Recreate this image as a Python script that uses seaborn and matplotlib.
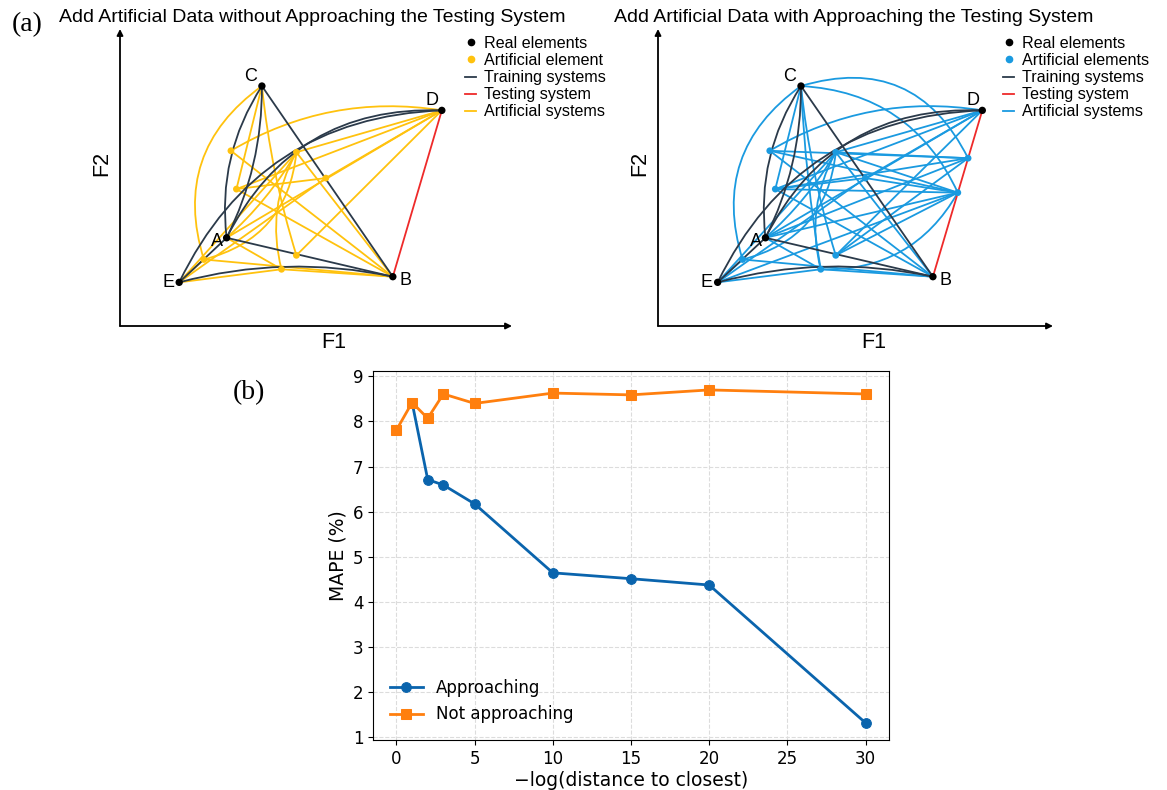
import matplotlib
matplotlib.use("Agg")
import matplotlib.pyplot as plt
import seaborn as sns
import pandas as pd
from matplotlib.patches import FancyArrowPatch
from matplotlib.lines import Line2D

# ---- panel (b) values ----
dist_approach = [1, 2, 3, 5, 10, 15, 20, 30]
mape_approach = [8.42, 6.71, 6.59, 6.17, 4.64, 4.51, 4.37, 1.31]
dist_not = [0, 1, 2, 3, 5, 10, 15, 20, 30]
mape_not = [7.81, 8.42, 8.07, 8.61, 8.40, 8.63, 8.59, 8.70, 8.61]
xticks_b = [0, 5, 10, 15, 20, 25, 30]
yticks_b = [1, 2, 3, 4, 5, 6, 7, 8, 9]

# ---- panel (a): element positions in (F1, F2), axes run 0..1 ----
real_names = ['A', 'B', 'C', 'D', 'E']
real_f1 = [0.272, 0.696, 0.362, 0.821, 0.151]
real_f2 = [0.297, 0.166, 0.808, 0.726, 0.147]

art_names = ['p1', 'p2', 'p3', 'p4', 'p5', 'p6', 'p7']
art_f1 = [0.283, 0.450, 0.297, 0.525, 0.214, 0.450, 0.412]
art_f2 = [0.590, 0.585, 0.461, 0.498, 0.224, 0.238, 0.191]

# extra artificial elements placed near the testing system
near_names = ['q1', 'q2']
near_f1 = [0.785, 0.759]
near_f2 = [0.565, 0.449]

# systems = (element, element, curvature)
training_edges = [
    ('C', 'A', 0.18), ('C', 'A', -0.12), ('C', 'B', 0.0), ('A', 'B', 0.0),
    ('E', 'A', 0.0), ('E', 'B', -0.12), ('A', 'D', -0.32), ('E', 'D', -0.3),
]
testing_edges = [('B', 'D', 0.0)]
artificial_edges = [
    ('p5', 'C', -0.36), ('D', 'p1', 0.18), ('C', 'p3', 0.0), ('C', 'p6', 0.05),
    ('p1', 'B', 0.0), ('p2', 'B', 0.0), ('p3', 'B', 0.0), ('p3', 'p4', 0.0),
    ('p4', 'D', 0.0), ('E', 'p4', 0.0), ('A', 'p2', 0.08), ('E', 'p2', 0.0),
    ('p2', 'p7', 0.2), ('p2', 'p5', -0.35), ('p5', 'B', 0.0), ('p6', 'D', 0.0),
    ('p7', 'B', 0.0), ('A', 'p7', 0.0), ('A', 'D', 0.0), ('E', 'p7', 0.0),
    ('p3', 'D', 0.0), ('p2', 'D', 0.0), ('E', 'p5', 0.0),
]
approach_extra_edges = [
    ('C', 'q1', -0.42), ('C', 'q2', -0.3), ('p1', 'q1', 0.0), ('p2', 'q1', 0.0),
    ('p3', 'q1', 0.0), ('p1', 'q2', 0.0), ('p2', 'q2', 0.0), ('p3', 'q2', 0.0),
    ('p6', 'q1', 0.0), ('p6', 'q2', 0.0), ('A', 'q2', 0.0), ('A', 'q1', 0.0),
    ('E', 'q2', 0.0), ('p7', 'q2', 0.3), ('p4', 'q2', 0.0), ('C', 'p7', 0.03),
]

label_offsets = {'A': (-7, -3), 'B': (9, -3), 'C': (-8, 7), 'D': (-7, 7), 'E': (-8, 0)}

DARK = '#2b3a4a'
RED = '#ee2a2a'
YELLOW = '#ffc20e'
LBLUE = '#1a9ae0'
BLUE = '#0a64ad'
ORANGE = '#ff7f0e'

fig = plt.figure(figsize=(11.67, 7.9), dpi=100)
W, H = 1167, 790


def pos(name):
    if name in real_names:
        i = real_names.index(name)
        return real_f1[i], real_f2[i]
    if name in art_names:
        i = art_names.index(name)
        return art_f1[i], art_f2[i]
    i = near_names.index(name)
    return near_f1[i], near_f2[i]


def add_edges(ax, edges, color, z):
    for a, b, rad in edges:
        p = FancyArrowPatch(pos(a), pos(b), arrowstyle='-',
                            connectionstyle=f'arc3,rad={rad}', color=color,
                            lw=1.3, shrinkA=0, shrinkB=0, zorder=z)
        ax.add_patch(p)


def draw_diagram(left_px, width_px, title_px, title, art_color, art_label, edges, with_near):
    ax = fig.add_axes([left_px / W, 1 - 326 / H, width_px / W, (326 - 29) / H])
    ax.set_xlim(0, 1)
    ax.set_ylim(0, 1)
    ax.axis('off')
    arrow = dict(arrowstyle='-|>', lw=1.3, color='black', mutation_scale=9,
                 shrinkA=0, shrinkB=0)
    ax.annotate('', xy=(1, 0), xytext=(0, 0), arrowprops=arrow, annotation_clip=False)
    ax.annotate('', xy=(0, 1), xytext=(0, 0), arrowprops=arrow, annotation_clip=False)

    add_edges(ax, edges, art_color, 2)
    add_edges(ax, training_edges, DARK, 3)
    add_edges(ax, testing_edges, RED, 3)

    af1, af2 = list(art_f1), list(art_f2)
    if with_near:
        af1 += near_f1
        af2 += near_f2
    sns.scatterplot(x=af1, y=af2, color=art_color, s=24, edgecolor='none', ax=ax, zorder=5)
    sns.scatterplot(x=real_f1, y=real_f2, color='black', s=28, edgecolor='none', ax=ax, zorder=6)
    for n, x, y in zip(real_names, real_f1, real_f2):
        ax.annotate(n, (x, y), xytext=label_offsets[n], textcoords='offset points',
                    ha='center', va='center', fontsize=13, family='Liberation Sans', zorder=7)

    fig.text((left_px - 18) / W, 1 - 163 / H, 'F2', rotation=90, ha='center', va='center',
             fontsize=15.5, family='Liberation Sans')
    fig.text((left_px + 0.545 * width_px) / W, 1 - 343 / H, 'F1', ha='center', va='center',
             fontsize=15.5, family='Liberation Sans')
    fig.text(title_px / W, 1 - 17 / H, title, ha='left', va='center',
             fontsize=14, family='Liberation Sans')

    handles = [
        Line2D([], [], ls='none', marker='o', color='black', ms=4.5),
        Line2D([], [], ls='none', marker='o', color=art_color, ms=4.5),
        Line2D([], [], color=DARK, lw=1.3),
        Line2D([], [], color=RED, lw=1.3),
        Line2D([], [], color=art_color, lw=1.3),
    ]
    labels = ['Real elements', art_label, 'Training systems', 'Testing system', 'Artificial systems']
    fig.legend(handles, labels, loc='upper left',
               bbox_to_anchor=((left_px + 345) / W, 1 - 36 / H), frameon=False,
               handlelength=0.7, handletextpad=0.5, labelspacing=0.13, borderpad=0,
               borderaxespad=0, prop={'family': 'Liberation Sans', 'size': 11.6})


draw_diagram(120, 392, 59, 'Add Artificial Data without Approaching the Testing System',
             YELLOW, 'Artificial element', artificial_edges, False)
draw_diagram(658, 395, 614, 'Add Artificial Data with Approaching the Testing System',
             LBLUE, 'Artificial elements', artificial_edges + approach_extra_edges, True)

fig.text(27 / W, 1 - 25 / H, '(a)', ha='center', va='center', fontsize=20, family='Liberation Serif')
fig.text(249 / W, 1 - 393 / H, '(b)', ha='center', va='center', fontsize=20, family='Liberation Serif')

# ---- panel (b) ----
df_a = pd.DataFrame({'dist': dist_approach, 'mape': mape_approach})
df_n = pd.DataFrame({'dist': dist_not, 'mape': mape_not})

ax_b = fig.add_axes([373 / W, 1 - 740 / H, 516 / W, 369 / H])
sns.lineplot(data=df_a, x='dist', y='mape', marker='o', color=BLUE, lw=2, markersize=7,
             markeredgecolor=BLUE, label='Approaching', ax=ax_b)
sns.lineplot(data=df_n, x='dist', y='mape', marker='s', color=ORANGE, lw=2, markersize=7.5,
             markeredgecolor=ORANGE, label='Not approaching', ax=ax_b)
ax_b.set_xlim(-1.5, 31.5)
ax_b.set_ylim(0.93, 9.12)
ax_b.set_xticks(xticks_b)
ax_b.set_yticks(yticks_b)
ax_b.tick_params(labelsize=12)
ax_b.grid(True, ls='--', color='#dcdcdc', lw=0.8)
ax_b.set_axisbelow(True)
ax_b.set_xlabel('\u2212log(distance to closest)', fontsize=13.5, labelpad=2)
ax_b.set_ylabel('MAPE (%)', fontsize=13.5)
ax_b.legend(loc='lower left', frameon=False, fontsize=12, borderaxespad=0.6)

fig.savefig('out.png', dpi=100)
